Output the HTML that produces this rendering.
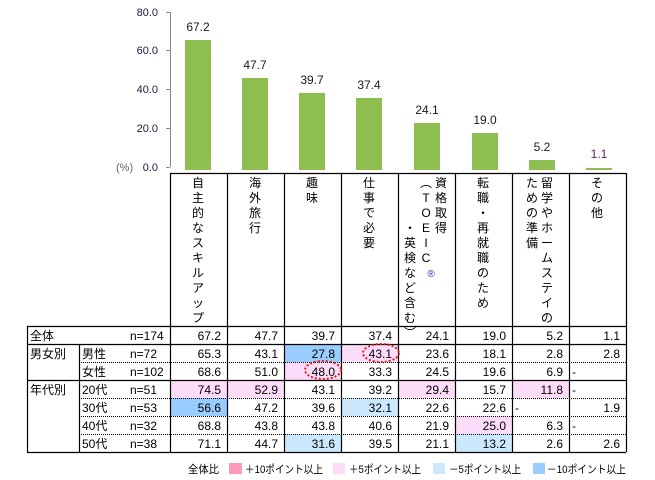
<!DOCTYPE html>
<html><head><meta charset="utf-8"><style>
html,body{margin:0;padding:0;background:#fff;}
svg{display:block;font-family:"Liberation Sans","Noto Sans CJK JP",sans-serif;}
</style></head><body>
<svg width="655" height="480" viewBox="0 0 655 480" xmlns="http://www.w3.org/2000/svg">
<g stroke="#888" stroke-width="1">
<line x1="170.5" y1="12" x2="170.5" y2="167"/>
<line x1="166" y1="12.5" x2="170" y2="12.5"/>
<line x1="166" y1="50.5" x2="170" y2="50.5"/>
<line x1="166" y1="89.5" x2="170" y2="89.5"/>
<line x1="166" y1="128.5" x2="170" y2="128.5"/>
<line x1="166" y1="167.5" x2="170" y2="167.5"/>
</g>
<g font-size="11" fill="#1a1a40" text-anchor="end">
<text x="158" y="16">80.0</text>
<text x="158" y="54">60.0</text>
<text x="158" y="93">40.0</text>
<text x="158" y="132">20.0</text>
<text x="158" y="171">0.0</text>
</g>
<text x="116" y="171" font-size="11" fill="#666">(%)</text>
<g fill="#8fbe50">
<rect x="185" y="40" width="26" height="130"/>
<rect x="242" y="78" width="26" height="92"/>
<rect x="299" y="93" width="26" height="77"/>
<rect x="356" y="98" width="26" height="72"/>
<rect x="414" y="123" width="26" height="47"/>
<rect x="472" y="133" width="26" height="37"/>
<rect x="529" y="160" width="26" height="10"/>
<rect x="586" y="168" width="26" height="2"/>
</g>
<g font-size="12" fill="#1a1a1a" text-anchor="middle">
<text x="198" y="31">67.2</text>
<text x="255" y="69">47.7</text>
<text x="312" y="84">39.7</text>
<text x="369" y="89">37.4</text>
<text x="427" y="114">24.1</text>
<text x="485" y="124">19.0</text>
<text x="542" y="151">5.2</text>
<text x="599" y="158" fill="#602070">1.1</text>
</g>
<g>
<rect x="284" y="344" width="57" height="18" fill="#99ccff"/>
<rect x="341" y="344" width="57" height="18" fill="#fcdcf8"/>
<rect x="284" y="362" width="57" height="18" fill="#fcdcf8"/>
<rect x="170" y="380" width="57" height="18" fill="#fcdcf8"/>
<rect x="227" y="380" width="57" height="18" fill="#fcdcf8"/>
<rect x="398" y="380" width="57" height="18" fill="#fcdcf8"/>
<rect x="512" y="380" width="57" height="18" fill="#fcdcf8"/>
<rect x="170" y="398" width="57" height="18" fill="#99ccff"/>
<rect x="341" y="398" width="57" height="18" fill="#cce8fc"/>
<rect x="455" y="416" width="57" height="18" fill="#fcdcf8"/>
<rect x="284" y="434" width="57" height="18" fill="#cce8fc"/>
<rect x="455" y="434" width="57" height="18" fill="#cce8fc"/>
</g>
<g stroke="#000" stroke-width="1.2" fill="none">
<line x1="170" y1="173.5" x2="626" y2="173.5"/>
<line x1="27" y1="326.5" x2="626" y2="326.5"/>
<line x1="27" y1="344.5" x2="626" y2="344.5"/>
<line x1="27" y1="380.5" x2="626" y2="380.5"/>
<line x1="27" y1="452.5" x2="626" y2="452.5"/>
<line x1="27.5" y1="326" x2="27.5" y2="452"/>
<line x1="79.5" y1="344" x2="79.5" y2="452"/>
<line x1="170.5" y1="173" x2="170.5" y2="452"/>
<line x1="227.5" y1="173" x2="227.5" y2="452"/>
<line x1="284.5" y1="173" x2="284.5" y2="452"/>
<line x1="341.5" y1="173" x2="341.5" y2="452"/>
<line x1="398.5" y1="173" x2="398.5" y2="452"/>
<line x1="455.5" y1="173" x2="455.5" y2="452"/>
<line x1="512.5" y1="173" x2="512.5" y2="452"/>
<line x1="569.5" y1="173" x2="569.5" y2="452"/>
<line x1="626.5" y1="173" x2="626.5" y2="452"/>
</g>
<g stroke="#000" stroke-width="1" stroke-dasharray="1,1">
<line x1="79" y1="362.5" x2="626" y2="362.5"/>
<line x1="79" y1="398.5" x2="626" y2="398.5"/>
<line x1="79" y1="416.5" x2="626" y2="416.5"/>
<line x1="79" y1="434.5" x2="626" y2="434.5"/>
</g>
<g font-size="12" fill="#000" text-anchor="middle">
<text x="198" y="187"><tspan x="198" dy="0">自</tspan><tspan x="198" dy="15">主</tspan><tspan x="198" dy="15">的</tspan><tspan x="198" dy="15">な</tspan><tspan x="198" dy="15">ス</tspan><tspan x="198" dy="15">キ</tspan><tspan x="198" dy="15">ル</tspan><tspan x="198" dy="15">ア</tspan><tspan x="198" dy="15">ッ</tspan><tspan x="198" dy="15">プ</tspan></text>
<text x="255" y="187"><tspan x="255" dy="0">海</tspan><tspan x="255" dy="15">外</tspan><tspan x="255" dy="15">旅</tspan><tspan x="255" dy="15">行</tspan></text>
<text x="312" y="187"><tspan x="312" dy="0">趣</tspan><tspan x="312" dy="15">味</tspan></text>
<text x="369" y="187"><tspan x="369" dy="0">仕</tspan><tspan x="369" dy="15">事</tspan><tspan x="369" dy="15">で</tspan><tspan x="369" dy="15">必</tspan><tspan x="369" dy="15">要</tspan></text>
<text x="441" y="187"><tspan x="441" dy="0">資</tspan><tspan x="441" dy="15">格</tspan><tspan x="441" dy="15">取</tspan><tspan x="441" dy="15">得</tspan></text>
<text x="426" y="187"><tspan x="426" dy="0">︵</tspan><tspan x="426" dy="15">T</tspan><tspan x="426" dy="15">O</tspan><tspan x="426" dy="15">E</tspan><tspan x="426" dy="15">I</tspan><tspan x="426" dy="15">C</tspan><tspan x="431" dy="15" font-size="10" fill="#1030a0">®</tspan></text>
<text x="410" y="232"><tspan x="410" dy="0">・</tspan><tspan x="410" dy="15">英</tspan><tspan x="410" dy="15">検</tspan><tspan x="410" dy="15">な</tspan><tspan x="410" dy="15">ど</tspan><tspan x="410" dy="15">含</tspan><tspan x="410" dy="15">む</tspan><tspan x="410" dy="15">︶</tspan></text>
<text x="483" y="187"><tspan x="483" dy="0">転</tspan><tspan x="483" dy="15">職</tspan><tspan x="483" dy="15">・</tspan><tspan x="483" dy="15">再</tspan><tspan x="483" dy="15">就</tspan><tspan x="483" dy="15">職</tspan><tspan x="483" dy="15">の</tspan><tspan x="483" dy="15">た</tspan><tspan x="483" dy="15">め</tspan></text>
<text x="547" y="187"><tspan x="547" dy="0">留</tspan><tspan x="547" dy="15">学</tspan><tspan x="547" dy="15">や</tspan><tspan x="547" dy="15">ホ</tspan><tspan x="547" dy="15">ー</tspan><tspan x="547" dy="15">ム</tspan><tspan x="547" dy="15">ス</tspan><tspan x="547" dy="15">テ</tspan><tspan x="547" dy="15">イ</tspan><tspan x="547" dy="15">の</tspan></text>
<text x="532" y="187"><tspan x="532" dy="0">た</tspan><tspan x="532" dy="15">め</tspan><tspan x="532" dy="15">の</tspan><tspan x="532" dy="15">準</tspan><tspan x="532" dy="15">備</tspan></text>
<text x="597" y="187"><tspan x="597" dy="0">そ</tspan><tspan x="597" dy="15">の</tspan><tspan x="597" dy="15">他</tspan></text>
</g>
<g font-size="12" fill="#000">
<text x="30" y="340">全体</text><text x="130" y="340">n=174</text>
<text x="30" y="358">男女別</text><text x="82" y="358">男性</text><text x="130" y="358">n=72</text>
<text x="82" y="376">女性</text><text x="130" y="376">n=102</text>
<text x="30" y="394">年代別</text><text x="82" y="394">20代</text><text x="130" y="394">n=51</text>
<text x="82" y="412">30代</text><text x="130" y="412">n=53</text>
<text x="82" y="430">40代</text><text x="130" y="430">n=32</text>
<text x="82" y="448">50代</text><text x="130" y="448">n=38</text>
</g>
<g font-size="12" fill="#000" text-anchor="end">
<text y="340"><tspan x="221">67.2</tspan><tspan x="278">47.7</tspan><tspan x="335">39.7</tspan><tspan x="392">37.4</tspan><tspan x="449">24.1</tspan><tspan x="506">19.0</tspan><tspan x="563">5.2</tspan><tspan x="620">1.1</tspan></text>
<text y="358"><tspan x="221">65.3</tspan><tspan x="278">43.1</tspan><tspan x="335">27.8</tspan><tspan x="392">43.1</tspan><tspan x="449">23.6</tspan><tspan x="506">18.1</tspan><tspan x="563">2.8</tspan><tspan x="620">2.8</tspan></text>
<text y="376"><tspan x="221">68.6</tspan><tspan x="278">51.0</tspan><tspan x="335">48.0</tspan><tspan x="392">33.3</tspan><tspan x="449">24.5</tspan><tspan x="506">19.6</tspan><tspan x="563">6.9</tspan></text>
<text y="394"><tspan x="221">74.5</tspan><tspan x="278">52.9</tspan><tspan x="335">43.1</tspan><tspan x="392">39.2</tspan><tspan x="449">29.4</tspan><tspan x="506">15.7</tspan><tspan x="563">11.8</tspan></text>
<text y="412"><tspan x="221">56.6</tspan><tspan x="278">47.2</tspan><tspan x="335">39.6</tspan><tspan x="392">32.1</tspan><tspan x="449">22.6</tspan><tspan x="506">22.6</tspan><tspan x="620">1.9</tspan></text>
<text y="430"><tspan x="221">68.8</tspan><tspan x="278">43.8</tspan><tspan x="335">43.8</tspan><tspan x="392">40.6</tspan><tspan x="449">21.9</tspan><tspan x="506">25.0</tspan><tspan x="563">6.3</tspan></text>
<text y="448"><tspan x="221">71.1</tspan><tspan x="278">44.7</tspan><tspan x="335">31.6</tspan><tspan x="392">39.5</tspan><tspan x="449">21.1</tspan><tspan x="506">13.2</tspan><tspan x="563">2.6</tspan><tspan x="620">2.6</tspan></text>
</g>
<g font-size="12" fill="#000">
<text x="572" y="376">-</text><text x="572" y="394">-</text><text x="515" y="412">-</text><text x="572" y="430">-</text>
</g>
<g fill="none" stroke="#e02020" stroke-width="2" stroke-dasharray="2,2">
<ellipse cx="381" cy="353" rx="18" ry="9"/>
<ellipse cx="323" cy="370" rx="18" ry="9"/>
</g>
<g font-size="11" fill="#000">
<text x="188" y="473" textLength="31" lengthAdjust="spacingAndGlyphs">全体比</text>
<rect x="229" y="463" width="13" height="11" fill="#ff99bb"/>
<text x="245" y="473" textLength="78" lengthAdjust="spacingAndGlyphs">＋10ポイント以上</text>
<rect x="333" y="463" width="12" height="11" fill="#fcdcf8"/>
<text x="349" y="473" textLength="72" lengthAdjust="spacingAndGlyphs">＋5ポイント以上</text>
<rect x="433" y="463" width="12" height="11" fill="#cce8fc"/>
<text x="449" y="473" textLength="72" lengthAdjust="spacingAndGlyphs">－5ポイント以上</text>
<rect x="533" y="463" width="12" height="11" fill="#99ccff"/>
<text x="547" y="473" textLength="79" lengthAdjust="spacingAndGlyphs">－10ポイント以上</text>
</g>
</svg>
</body></html>
